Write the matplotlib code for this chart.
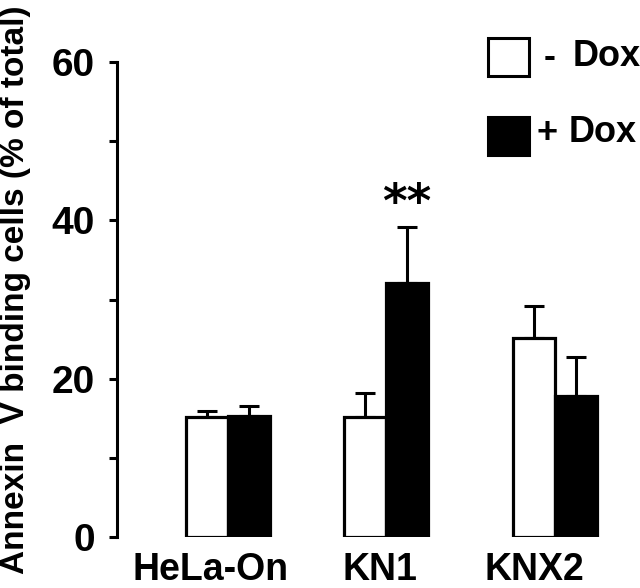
import numpy as np
import matplotlib
matplotlib.use('Agg')
from matplotlib import pyplot as plt
from matplotlib.patches import Rectangle

plt.rcParams['font.family'] = ['Liberation Sans', 'DejaVu Sans']
plt.rcParams['font.weight'] = 'bold'

groups = ['HeLa-On', 'KN1', 'KNX2']
minus_dox = [15.2, 15.1, 25.2]
minus_err = [0.7, 3.1, 4.0]
plus_dox = [15.3, 32.1, 17.8]
plus_err = [1.3, 7.1, 4.9]
yticks = [0, 20, 40, 60]

pos = np.array([0.0, 1.0, 2.07])
w = 0.266

fig = plt.figure(figsize=(6.4, 5.88), dpi=100)
ax = fig.add_axes([117/640, 1 - 537/588, 523/640, (537 - 62)/588])

lw = 2.3
ax.bar(pos - w/2, minus_dox, w, color='white', edgecolor='black', linewidth=lw, zorder=2)
ax.bar(pos + w/2, plus_dox, w, color='black', edgecolor='black', linewidth=lw, zorder=2)
ax.errorbar(pos - w/2, minus_dox, yerr=[np.zeros(3), minus_err], fmt='none',
            ecolor='black', elinewidth=2.2, capsize=7.5, capthick=2.2, zorder=1)
ax.errorbar(pos + w/2, plus_dox, yerr=[np.zeros(3), plus_err], fmt='none',
            ecolor='black', elinewidth=2.2, capsize=7.5, capthick=2.2, zorder=1)

# significance
ax.text(pos[1] + w/2, plus_dox[1] + plus_err[1], '**', ha='center', va='bottom',
        fontsize=34, fontweight='bold', family='DejaVu Sans')

ax.set_xlim(-0.703, 2.608)
ax.set_ylim(0, 60)
ax.set_yticks(yticks)
ax.set_yticks([10, 30, 50], minor=True)
ax.tick_params(axis='y', which='both', direction='out', length=6, width=2.2, labelsize=28, pad=10)
ax.set_xticks(pos - np.array([0.11, 0.04, 0.13]))
ax.set_xticklabels(groups)
ax.tick_params(axis='x', length=0, labelsize=27, pad=11)
for lab in ax.get_xticklabels() + ax.get_yticklabels():
    lab.set_fontweight('bold')

for s in ['top', 'right', 'bottom']:
    ax.spines[s].set_visible(False)
ax.spines['left'].set_linewidth(2.2)

fig.text(16/640, 1 - 290/588, 'Annexin  V binding cells (% of total)', rotation=90,
         ha='center', va='center', fontsize=24, fontweight='bold')

# legend
fig.add_artist(Rectangle((488/640, 1 - 76/588), 41/640, 38/588, transform=fig.transFigure,
                         facecolor='white', edgecolor='black', linewidth=2.2))
fig.add_artist(Rectangle((488/640, 1 - 155/588), 41/640, 38/588, transform=fig.transFigure,
                         facecolor='black', edgecolor='black', linewidth=2.2))
fig.text(544/640, 1 - 57/588, '-', ha='left', va='center', fontsize=26, fontweight='bold')
fig.text(573/640, 1 - 57/588, 'Dox', ha='left', va='center', fontsize=26, fontweight='bold')
fig.text(537/640, 1 - 133/588, '+', ha='left', va='center', fontsize=26, fontweight='bold')
fig.text(569/640, 1 - 133/588, 'Dox', ha='left', va='center', fontsize=26, fontweight='bold')

fig.savefig('out.png', dpi=100)
